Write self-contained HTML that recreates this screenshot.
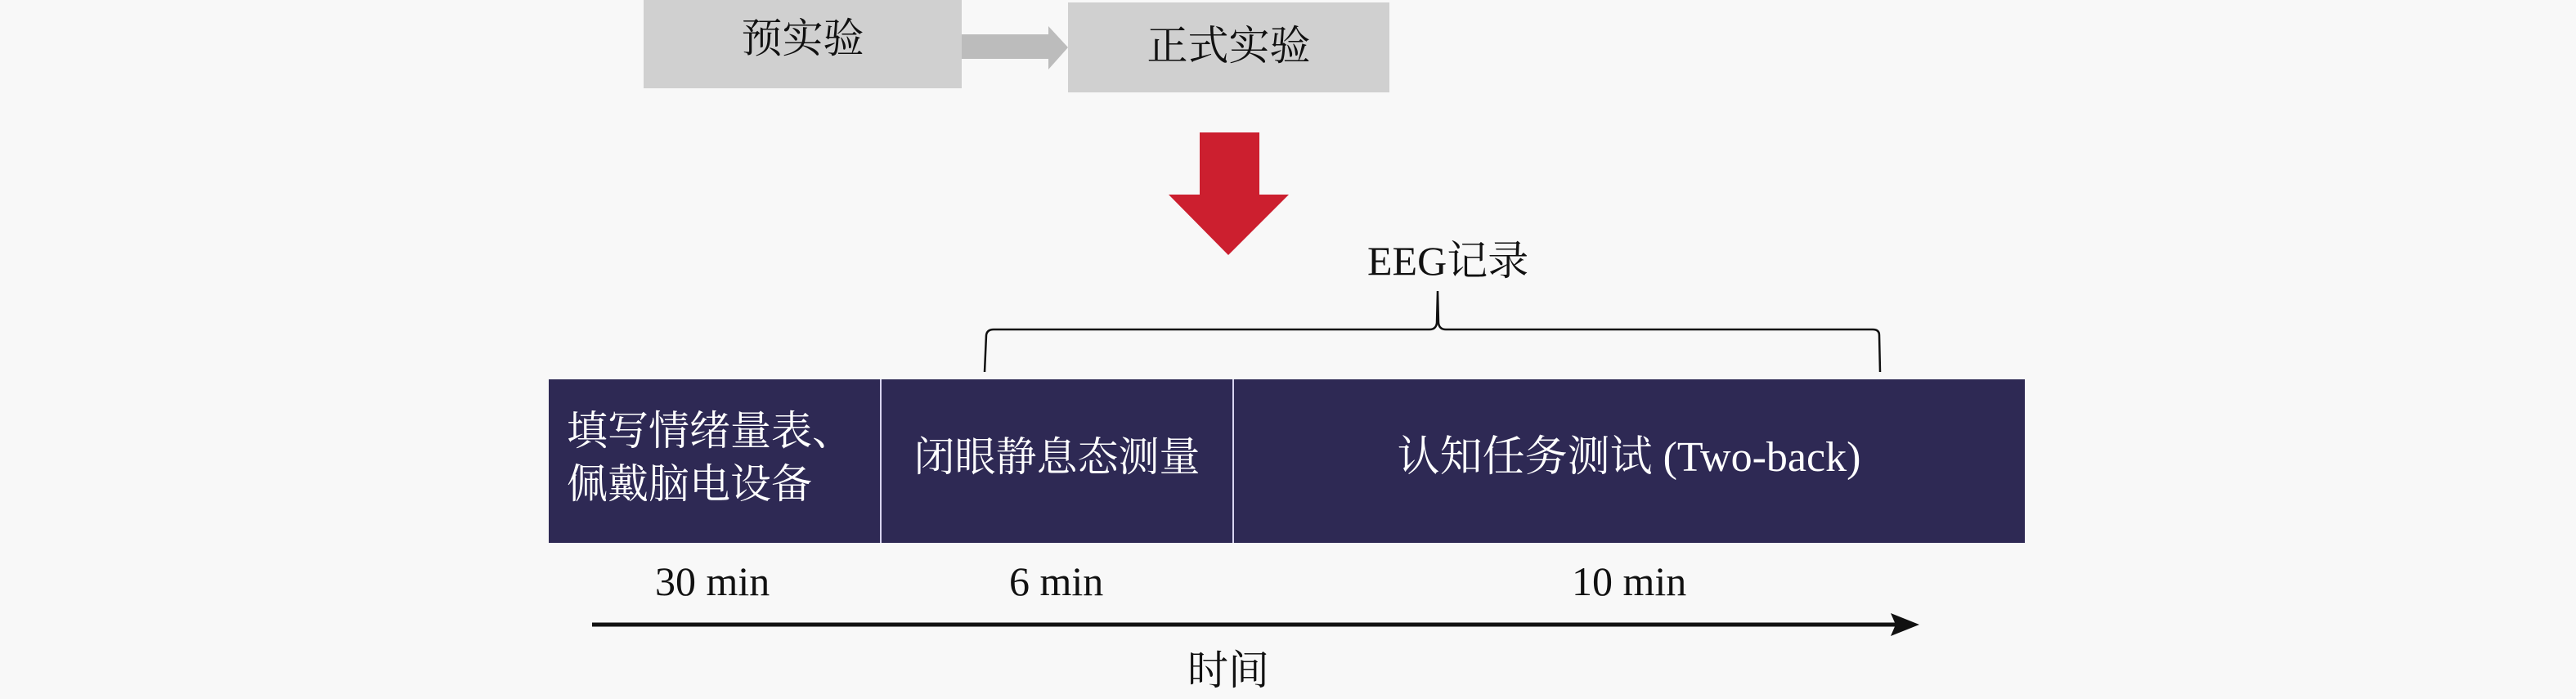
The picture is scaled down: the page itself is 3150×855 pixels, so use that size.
<!DOCTYPE html>
<html><head><meta charset="utf-8"><style>
body{margin:0;width:3150px;height:855px;background:#f8f8f8;position:relative;overflow:hidden;font-family:"Liberation Serif","Noto Serif CJK SC",serif;}
.a{position:absolute;}
.t{position:absolute;white-space:nowrap;font-size:50px;line-height:1;}
</style></head><body>
<div class="a" style="left:787px;top:0;width:389px;height:108px;background:#d0d0d0"></div>
<div class="a" style="left:1306px;top:3px;width:393px;height:110px;background:#d0d0d0"></div>
<div class="t" style="left:787px;width:389px;text-align:center;top:22px;color:#111">预实验</div>
<div class="t" style="left:1306px;width:393px;text-align:center;top:31px;color:#111">正式实验</div>
<svg class="a" style="left:0;top:0" width="3150" height="855">
<polygon points="1176,42 1282,42 1282,32 1306,58 1282,85 1282,72 1176,72" fill="#bcbcbc"/>
<polygon points="1467,162 1540,162 1540,238 1576,238 1502,312 1429,238 1467,238" fill="#cc1f2f"/>
<path d="M1204,455 L1206,410 Q1207,403 1215,403 L1748,403 Q1756,403 1757,395 L1758,356 L1759,395 Q1760,403 1768,403 L2290,403 Q2298,403 2298,410 L2299,455" fill="none" stroke="#111" stroke-width="2.5"/>
<rect x="671" y="464" width="1805" height="200" fill="#2e2954"/>
<line x1="1077" y1="464" x2="1077" y2="664" stroke="#d8d4f0" stroke-width="2"/>
<line x1="1508" y1="464" x2="1508" y2="664" stroke="#d8d4f0" stroke-width="2"/>
<line x1="724" y1="764" x2="2320" y2="764" stroke="#111" stroke-width="5"/>
<polygon points="2312,750 2347,764 2312,778 2318,764" fill="#111"/>
</svg>
<div class="t" style="left:1672px;top:294px;color:#111">EEG记录</div>
<div class="t" style="left:693px;top:502px;color:#fff">填写情绪量表、</div>
<div class="t" style="left:693px;top:567px;color:#fff">佩戴脑电设备</div>
<div class="t" style="left:1077px;width:431px;text-align:center;top:534px;color:#fff">闭眼静息态测量</div>
<div class="t" style="left:1508px;width:968px;text-align:center;top:534px;color:#fff;font-size:52px">认知任务测试 (Two-back)</div>
<div class="t" style="left:801px;top:686px;color:#111">30 min</div>
<div class="t" style="left:1234px;top:686px;color:#111">6 min</div>
<div class="t" style="left:1922px;top:686px;color:#111">10 min</div>
<div class="t" style="left:1452px;top:795px;color:#111">时间</div>
</body></html>
